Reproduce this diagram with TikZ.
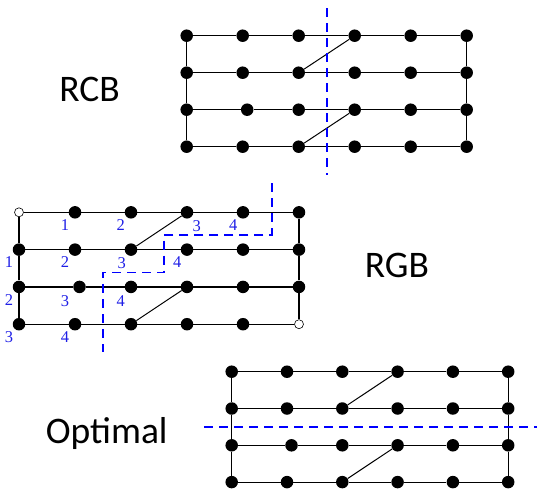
\documentclass[tikz,border=0pt]{standalone}
\usepackage{fontspec}
\setmainfont{Carlito}
\newfontfamily\numfont{Liberation Serif}
\tikzset{
  gridline/.style={line width=1.2pt, black},
  dot/.style={circle, fill=black, inner sep=0pt, minimum size=12.5pt},
  opendot/.style={circle, draw=black, fill=white, line width=0.6pt, inner sep=0pt, minimum size=9pt},
  cutline/.style={blue, line width=1.6pt, dash pattern=on 9pt off 6pt},
  title/.style={font=\fontsize{37.5}{40}\selectfont, inner sep=0pt, anchor=base},
  num/.style={font=\numfont\fontsize{16.5}{18}\selectfont, text={rgb,255:red,30;green,30;blue,230}, inner sep=0pt}
}
\newcommand{\mygrid}[6]{%
  \foreach \r in {0,...,3}{
    \foreach \c in {0,...,5}{
      \pgfmathsetmacro\xx{#2+\c*#4+and(\r==2,\c==1)*4.5}
      \pgfmathsetmacro\yy{#3+\r*#5}
      \pgfmathtruncatemacro\corner{or(and(\r==0,\c==0),and(\r==3,\c==5))}
      \ifnum\corner=1
        \node[#6] (#1-\r-\c) at (\xx,\yy) {};
      \else
        \node[dot] (#1-\r-\c) at (\xx,\yy) {};
      \fi
    }
  }
  \foreach \r in {0,...,3}{
    \foreach \c [evaluate=\c as \n using int(\c+1)] in {0,...,4}{
      \draw[gridline] (#1-\r-\c) -- (#1-\r-\n);
    }
  }
  \foreach \c in {0,5}{
    \draw[gridline] (#1-0-\c) -- (#1-1-\c);
    \draw[gridline] (#1-1-\c) -- (#1-2-\c);
    \draw[gridline] (#1-2-\c) -- (#1-3-\c);
  }
  \draw[gridline, line width=1pt] (#1-1-2) -- (#1-0-3);
  \draw[gridline, line width=1pt] (#1-3-2) -- (#1-2-3);
}
\begin{document}
\begin{tikzpicture}[x=1pt,y=-1pt]
\useasboundingbox (0,0) rectangle (549,496);
% grids
\mygrid{A}{186.7}{35.7}{56}{37}{dot}
\mygrid{B}{19}{212.3}{56}{37.3}{opendot}
\mygrid{C}{231.7}{371.7}{55.3}{36.8}{dot}
% titles
\node[title] (tRCB) at (89.5,101.7) {RCB};
\node[title] (tRGB) at (397,277.3) {RGB};
\node[title] (tOpt) at (106.7,443.3) {Optimal};
% cut lines
\coordinate (a1) at (326.7,8);
\coordinate (a2) at (326.7,175);
\draw[cutline] (a1) -- (a2);
\coordinate (b1) at (271.7,183.3);
\coordinate (b2) at (271.7,235);
\coordinate (b3) at (164,235);
\coordinate (b4) at (164,272.3);
\coordinate (b5) at (102.7,272.3);
\coordinate (b6) at (102.7,352);
\draw[cutline] (b1) -- (b2) -- (b3) -- (b4) -- (b5) -- (b6);
\coordinate (c1) at (204,426.7);
\coordinate (c2) at (536.7,426.7);
\draw[cutline] (c1) -- (c2);
% numbers
\node[num] (n01) at (65,225) {1};
\node[num] (n02) at (120.7,225) {2};
\node[num] (n03) at (196.7,226) {3};
\node[num] (n04) at (233.3,225) {4};
\node[num] (n11) at (9,261.7) {1};
\node[num] (n12) at (65,261.7) {2};
\node[num] (n13) at (121.7,262.7) {3};
\node[num] (n14) at (177.3,261.7) {4};
\node[num] (n22) at (9,300) {2};
\node[num] (n23) at (65,300.7) {3};
\node[num] (n24) at (120.7,300.7) {4};
\node[num] (n33) at (9,336.7) {3};
\node[num] (n34) at (65,336.7) {4};
\end{tikzpicture}
\end{document}
